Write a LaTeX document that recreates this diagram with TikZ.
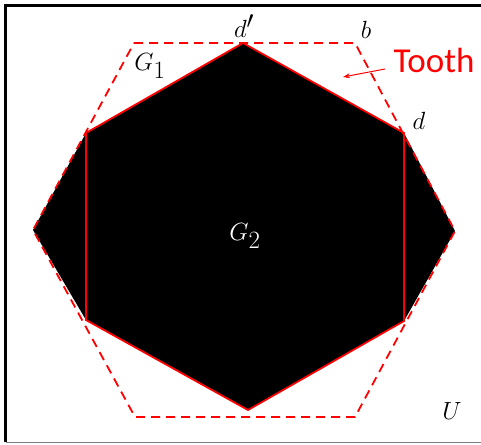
\documentclass[tikz,border=0pt]{standalone}
\usepackage{fontspec}
\newfontfamily\toothfont{Carlito}
\usetikzlibrary{arrows.meta}
\begin{document}
\begin{tikzpicture}[x=1pt, y=-1pt, font=\fontsize{38}{44}\selectfont]
\useasboundingbox (0,0) rectangle (481,444);
\draw[line width=2.5pt] (490,5.5) -- (5.5,5.5) -- (5.5,442);
\draw[gray, line width=1.5pt] (5.5,442.5) -- (490,442.5);
% corners of the two shapes
\coordinate (dp) at (243,43);
\coordinate (d) at (404,133);
\coordinate (rgt) at (455,231);
\coordinate (rb) at (404,321);
\coordinate (bot) at (248,410);
\coordinate (lb) at (86,320);
\coordinate (lft) at (33,230);
\coordinate (lt) at (86,133);
\coordinate (b) at (355,43);
\coordinate (tl) at (134,43);
\coordinate (br) at (355,417);
\coordinate (bl) at (135,417);
\fill[black] (dp) -- (d) -- (rgt) -- (rb) -- (bot) -- (lb) -- (lft) -- (lt) -- cycle;
\draw[red, line width=1.8pt, line join=miter] (dp) -- (d) -- (rb) -- (bot) -- (lb) -- (lt) -- cycle;
\draw[red, line width=1.8pt, dash pattern=on 9pt off 6pt] (tl) -- (b) -- (rgt) -- (br) -- (bl) -- (lft) -- cycle;
\node (dplabel) at (244,26) {$d'$};
\node (blabel) at (366,30) {$b$};
\node (dlabel) at (419,121) {$d$};
\node (g1) at (150,66) {$G_1$};
\node[white] (g2) at (245,236) {$G_2$};
\node (u) at (452,411) {$U$};
\node[red, font=\toothfont\fontsize{35}{40}\selectfont] (tooth) at (434,60) {Tooth};
\coordinate (tip) at (343,77);
\draw[red, line width=1pt, -{Stealth[length=7pt, width=5pt]}] (385,69) -- (tip);
\end{tikzpicture}
\end{document}
